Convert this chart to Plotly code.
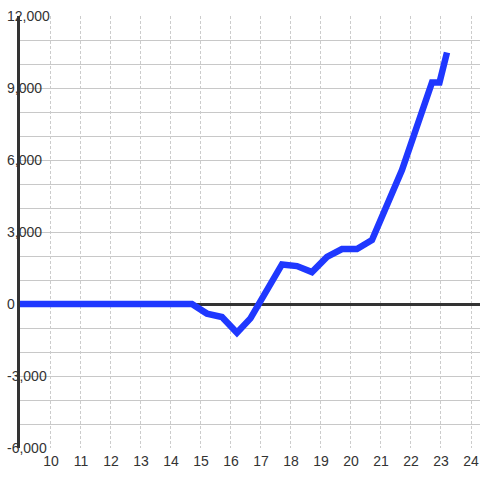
import plotly.graph_objects as go

# data
x_vals = [8.9, 14.7, 15.2, 15.7, 16.2, 16.65, 17.7, 18.2, 18.7, 19.2, 19.7,
          20.2, 20.7, 21.7, 22.7, 22.95, 23.2]
y_vals = [0, 0, -400, -540, -1200, -600, 1650, 1580, 1330, 1960, 2290,
          2290, 2670, 5580, 9230, 9230, 10480]

x_ticks = list(range(10, 25))
y_ticks = [-6000, -3000, 0, 3000, 6000, 9000, 12000]
y_tick_text = ["-6,000", "-3,000", "0", "3,000", "6,000", "9,000", "12,000"]

fig = go.Figure()
fig.add_trace(go.Scatter(
    x=x_vals, y=y_vals, mode="lines",
    line=dict(color="#1f38ff", width=6.5),
    showlegend=False, hoverinfo="skip",
))
# empty trace so the label axis (y2) is drawn
fig.add_trace(go.Scatter(x=[], y=[], yaxis="y2", mode="lines",
                         showlegend=False, hoverinfo="skip"))

W, H = 480, 480
ML = 3
fig.update_layout(
    width=W, height=H,
    margin=dict(l=ML, r=0, t=16, b=32),
    paper_bgcolor="white", plot_bgcolor="white",
    font=dict(family="Liberation Sans, Arial, sans-serif", size=14, color="#333"),
)
fig.update_xaxes(
    domain=[(20 - ML) / (W - ML), 1],
    range=[8.97, 24.3],
    tickvals=x_ticks,
    ticktext=[str(v) for v in x_ticks],
    showgrid=True, gridcolor="#cccccc", gridwidth=1, griddash="3px,2px",
    showline=False, zeroline=False, ticks="",
    ticklabelstandoff=3,
    tickfont=dict(size=14, color="#333"),
    automargin=False,
)
fig.update_yaxes(
    range=[-6000, 12000],
    tickvals=y_ticks, showticklabels=False,
    showgrid=True, gridcolor="#c8c8c8", gridwidth=1,
    minor=dict(dtick=1000, showgrid=True, gridcolor="#c8c8c8", gridwidth=1),
    zeroline=True, zerolinecolor="#333333", zerolinewidth=3,
    showline=True, linecolor="#333333", linewidth=3,
    ticks="", automargin=False,
)
fig.update_layout(yaxis2=dict(
    overlaying="y", anchor="free", position=0, side="left",
    range=[-6000, 12000],
    tickvals=y_ticks, ticktext=y_tick_text,
    showgrid=False, zeroline=False, showline=False, ticks="",
    ticklabelposition="inside", ticklabeloverflow="allow",
    tickfont=dict(size=14, color="#333"),
    automargin=False,
))

fig.write_html("out.html", config={"displayModeBar": False},
               post_script="document.body.style.margin='0';")
